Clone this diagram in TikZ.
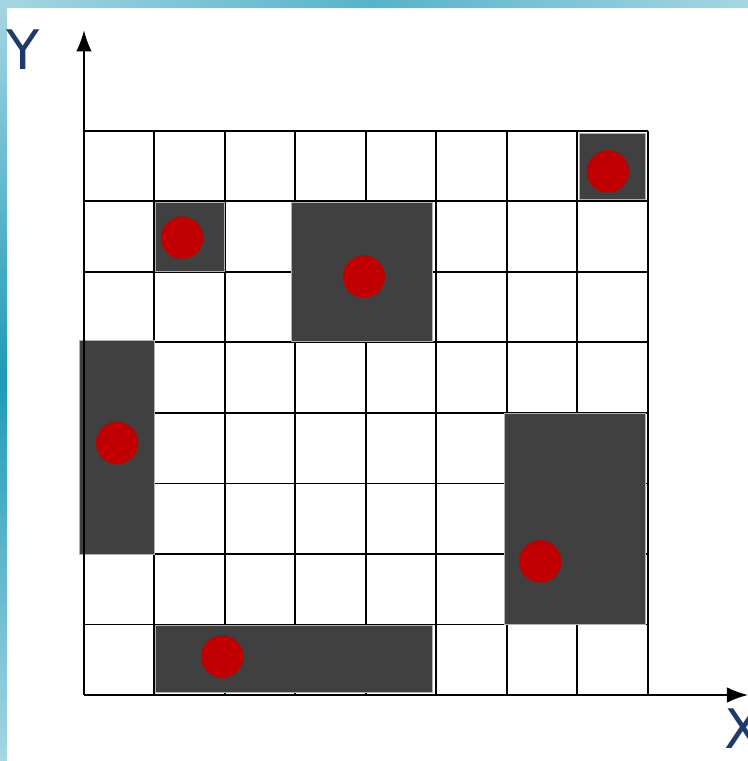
\documentclass[tikz,border=0pt]{standalone}
\usepackage{fontspec}
\setmainfont{DejaVu Sans}
\usetikzlibrary{arrows.meta}
\definecolor{cellgray}{HTML}{404040}
\definecolor{dotred}{HTML}{C00000}
\definecolor{axisblue}{HTML}{1F3A6E}
\definecolor{tealdark}{HTML}{1E9AB8}
\definecolor{teallight}{HTML}{A6D6E2}
\tikzset{
  blockcell/.style={fill=cellgray, draw=gray!60, line width=0.4pt},
  reddot/.style={fill=dotred},
  axislabel/.style={text=axisblue, font=\fontsize{22}{26}\selectfont, inner sep=0pt}
}
\begin{document}
\begin{tikzpicture}[x=1cm, y=1cm, line width=0.8pt]
  \useasboundingbox (-1.191,-0.936) rectangle (9.418,9.858);
  % frame strips
  \shade[left color=teallight, right color=teallight, middle color=tealdark!75] (-1.191,9.758) rectangle (9.418,9.858);
  \shade[top color=teallight, bottom color=teallight, middle color=tealdark] (-1.191,-0.936) rectangle (-1.091,9.858);
  % grid
  \foreach \i in {1,...,8} {
    \draw (\i,0) -- (\i,8);
    \draw (0,\i) -- (8,\i);
  }
  % occupied cells
  \filldraw[blockcell] (7.03,7.03) rectangle (7.97,7.97);
  \filldraw[blockcell] (1.01,6.01) rectangle (1.99,6.99);
  \filldraw[blockcell] (2.95,5.01) rectangle (4.95,6.99);
  \filldraw[blockcell] (-0.06,2.0) rectangle (1.0,5.03);
  \filldraw[blockcell] (5.96,1.0) rectangle (7.96,3.99);
  \filldraw[blockcell] (1.01,0.04) rectangle (4.95,0.99);
  % centres
  \fill[reddot] (7.43,7.43) circle (0.3);
  \fill[reddot] (1.39,6.49) circle (0.3);
  \fill[reddot] (3.97,5.94) circle (0.3);
  \fill[reddot] (0.47,3.58) circle (0.3);
  \fill[reddot] (6.47,1.90) circle (0.3);
  \fill[reddot] (1.96,0.55) circle (0.3);
  % axes
  \coordinate (O) at (0,0);
  \coordinate (xend) at (9.42,0);
  \coordinate (yend) at (0,9.43);
  \draw[-{Latex[length=3mm,width=2.2mm]}] (O) -- (xend);
  \draw[-{Latex[length=3mm,width=2.2mm]}] (O) -- (yend);
  \node[axislabel] (ylab) at (-0.86,9.15) {Y};
  \node[axislabel] (xlab) at (9.35,-0.47) {X};
\end{tikzpicture}
\end{document}
